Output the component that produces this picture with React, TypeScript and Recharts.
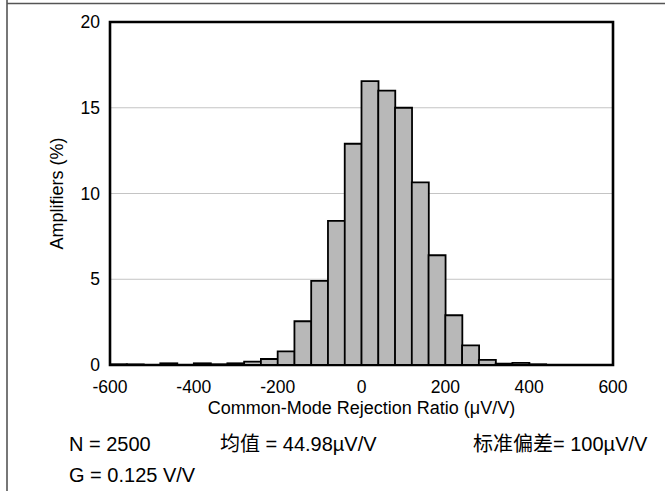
import React from 'react';
import { BarChart, Bar, XAxis, YAxis, CartesianGrid, ReferenceArea } from 'recharts';

const binStarts = [-600, -560, -520, -480, -440, -400, -360, -320, -280, -240, -200, -160, -120, -80, -40, 0, 40, 80, 120, 160, 200, 240, 280, 320, 360, 400, 440, 480, 520, 560];
const percents = [0.04, 0.03, 0, 0.1, 0, 0.1, 0.04, 0.1, 0.2, 0.35, 0.8, 2.55, 4.9, 8.4, 12.9, 16.55, 16.0, 15.0, 10.65, 6.4, 2.9, 1.15, 0.3, 0.08, 0.12, 0.04, 0, 0, 0, 0];
const binWidth = 40;
const xTicks = [-600, -400, -200, 0, 200, 400, 600];
const yTicks = [0, 5, 10, 15, 20];

const xTitle = 'Common-Mode Rejection Ratio (\u03BCV/V)';
const yTitle = 'Amplifiers (%)';
const notes = ['N = 2500', '均值 = 44.98µV/V', '标准偏差= 100µV/V', 'G = 0.125 V/V'];

const data = binStarts.map((s, i) => ({ bin: String(s), mid: s + binWidth / 2, pct: percents[i] }));

const FONT = '"Liberation Sans", Arial, sans-serif';
const CJK = '"Liberation Sans", "Noto Sans CJK SC", sans-serif';

export default function App() {
  return (
    <div style={{ position: 'absolute', left: 0, top: 0, width: 665, height: 491, background: '#fff' }}>
      <BarChart
        width={665}
        height={491}
        data={data}
        margin={{ top: 22, right: 52, bottom: 96, left: 60 }}
        barCategoryGap={0}
        barGap={0}
      >
        <CartesianGrid vertical={false} stroke="#c4c4c4" strokeWidth={1} xAxisId="num" />
        <XAxis xAxisId="cat" dataKey="bin" hide height={0} />
        <XAxis
          xAxisId="num"
          type="number"
          dataKey="mid"
          domain={[-600, 600]}
          ticks={xTicks}
          tickLine={false}
          axisLine={false}
          tickSize={6}
          tickMargin={10}
          height={30}
          interval={0}
          tick={{ fill: '#000', fontSize: 17.5, fontFamily: FONT }}
        />
        <YAxis
          domain={[0, 20]}
          ticks={yTicks}
          tickLine={false}
          axisLine={false}
          tickSize={4}
          tickMargin={6}
          width={50}
          interval={0}
          tick={{ fill: '#000', fontSize: 17.5, fontFamily: FONT }}
        />
        <Bar
          xAxisId="cat"
          dataKey="pct"
          fill="#b8b8b8"
          stroke="#000"
          strokeWidth={1.8}
          isAnimationActive={false}
        />
        <ReferenceArea
          xAxisId="num"
          x1={-600}
          x2={600}
          y1={0}
          y2={20}
          fill="none"
          fillOpacity={0}
          stroke="#000"
          strokeWidth={2.6}
          ifOverflow="visible"
        />
      </BarChart>
      <svg width={665} height={491} style={{ position: 'absolute', left: 0, top: 0, pointerEvents: 'none' }}>
        <line x1={7} y1={0} x2={7} y2={491} stroke="#555" strokeWidth={1.6} />
        <line x1={7} y1={3.5} x2={665} y2={3.5} stroke="#555" strokeWidth={1.6} />
        <text x={361.5} y={414} textAnchor="middle" fontSize={18} fontFamily={FONT} fill="#000">{xTitle}</text>
        <text
          x={0}
          y={0}
          transform="translate(63,193.5) rotate(-90)"
          textAnchor="middle"
          fontSize={18}
          fontFamily={FONT}
          fill="#000"
        >
          {yTitle}
        </text>
        <text x={69} y={451} fontSize={20} fontFamily={FONT} fill="#000">{notes[0]}</text>
        <text x={220} y={451} fontSize={20} fontFamily={CJK} fill="#000">{notes[1]}</text>
        <text x={473} y={451} fontSize={20} fontFamily={CJK} fill="#000">{notes[2]}</text>
        <text x={69} y={482} fontSize={20} fontFamily={FONT} fill="#000">{notes[3]}</text>
      </svg>
    </div>
  );
}
